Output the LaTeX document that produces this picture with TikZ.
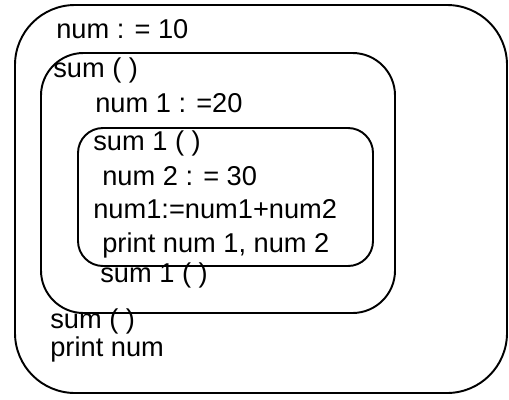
\documentclass[tikz,border=0pt]{standalone}
\usepackage{fontspec}
\setmainfont{Liberation Sans}
\usetikzlibrary{positioning}

\begin{document}
\begin{tikzpicture}[
      x=0.02cm, y=-0.02cm,
      scopebox/.style={draw, line width=1.1pt},
      code/.style={anchor=base west, inner sep=0pt, font=\fontsize{15.5}{18}\selectfont}
    ]
    \useasboundingbox (0,0) rectangle (509,399);

    % Nested scopes
    \draw[scopebox, rounded corners=1.2cm] (15,5) rectangle (507,393);
    \draw[scopebox, rounded corners=0.85cm] (41,53) rectangle (395,313);
    \draw[scopebox, rounded corners=0.5cm] (78,128) rectangle (373,266);

    % Outer program
    \node[code] (numdef) at (56,38) {num : = 10};
    \node[code] (sumhead) at (53,77) {sum ( )};

    % Procedure sum
    \node[code] (numonedef) at (95,112) {num 1 : =20};
    \node[code] (sumonehead) at (93,150) {sum 1 ( )};

    % Procedure sum1
    \node[code] (numtwodef) at (102,185) {num 2 : = 30};
    \node[code] (assign) at (93,218) {num1:=num1+num2};
    \node[code] (printinner) at (102,252) {print num 1, num 2};

    % Calls
    \node[code] (sumonecall) at (100,282) {sum 1 ( )};
    \node[code] (sumcall) at (50,328) {sum ( )};
    \node[code] (printouter) at (50,356) {print num};
  \end{tikzpicture}
\end{document}
